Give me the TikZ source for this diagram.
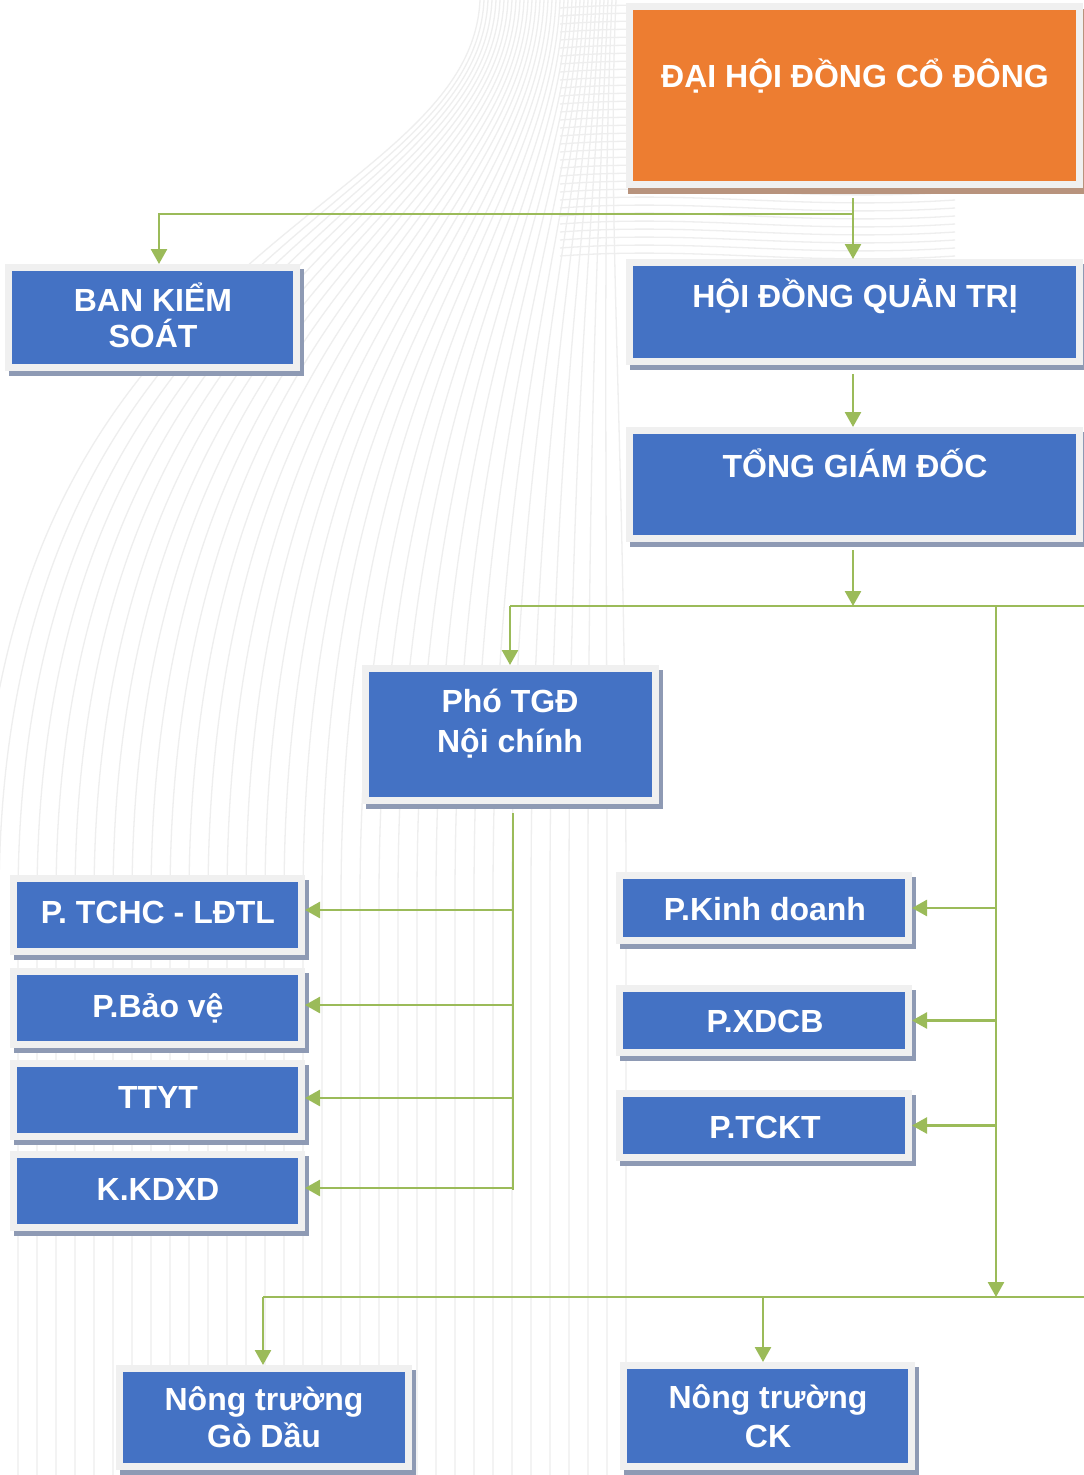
\documentclass[tikz,border=0pt]{standalone}
\usepackage{fontspec}
\setmainfont{Liberation Sans}
\usetikzlibrary{arrows.meta}
\definecolor{boxblue}{HTML}{4472C4}
\definecolor{boxorange}{HTML}{ED7D31}
\definecolor{framegrey}{HTML}{F0F0F0}
\definecolor{shadowblue}{HTML}{8E9AB4}
\definecolor{shadowbrown}{HTML}{B8937D}
\definecolor{conngreen}{HTML}{9BBB59}
\definecolor{swirl}{HTML}{EEEEEE}
\begin{document}
\begin{tikzpicture}[x=1pt,y=-1pt,
  orgbox/.style={fill=boxblue, draw=framegrey, line width=7pt, inner sep=0pt,
    preaction={draw=shadowblue, fill=shadowblue, line width=7pt,
      transform canvas={shift={(4pt,-5pt)}}}},
  orangebox/.style={fill=boxorange, draw=framegrey, line width=7pt, inner sep=0pt,
    preaction={draw=shadowbrown, fill=shadowbrown, line width=7pt,
      transform canvas={shift={(2pt,-6pt)}}}},
  txt/.style={text=white, font=\bfseries\fontsize{32}{38}\selectfont, anchor=base, inner sep=0pt},
  conn/.style={draw=conngreen, line width=2.6pt},
  arr/.style={conn, -{Triangle[width=16pt,length=15pt]}},
  bgline/.style={draw=swirl, line width=1.3pt}]

\useasboundingbox (0,0) rectangle (1084,1475);
\fill[white] (0,0) rectangle (1084,1475);
\begin{scope}
\clip (0,0) rectangle (1084,1475);
% decorative background
\foreach \i in {0,...,34} {
  \draw[bgline] ({480+4*\i},0) .. controls ({470+4*\i},220) and ({-20+19*\i},{240+6*\i}) .. ({-20+19*\i},900) -- ({-20+19*\i},1475);
}
\foreach \j in {1,...,32} {
  \draw[bgline] (560,{8*\j}) .. controls (700,{8*\j-10}) and (800,{8*\j+10}) .. (955,{8*\j});
}
\end{scope}

% boxes
\node[orangebox, minimum width=450pt, minimum height=178pt] (dhdcd) at (854.5,95.5) {};
\node[orgbox, minimum width=288pt, minimum height=100pt] (bks) at (152.5,317.5) {};
\node[orgbox, minimum width=450pt, minimum height=99pt] (hdqt) at (854.5,312) {};
\node[orgbox, minimum width=450pt, minimum height=108pt] (tgd) at (854.5,484.5) {};
\node[orgbox, minimum width=290pt, minimum height=132pt] (ptgd) at (510.5,734.5) {};
\node[orgbox, minimum width=288pt, minimum height=73pt] (tchc) at (157.5,915) {};
\node[orgbox, minimum width=288pt, minimum height=73pt] (baove) at (157.5,1008) {};
\node[orgbox, minimum width=288pt, minimum height=73pt] (ttyt) at (157.5,1100) {};
\node[orgbox, minimum width=288pt, minimum height=73pt] (kdxd) at (157.5,1191) {};
\node[orgbox, minimum width=289pt, minimum height=65pt] (kd) at (764,908) {};
\node[orgbox, minimum width=289pt, minimum height=64pt] (xdcb) at (764,1020.5) {};
\node[orgbox, minimum width=289pt, minimum height=64pt] (tckt) at (764,1125.5) {};
\node[orgbox, minimum width=289pt, minimum height=98pt] (gd) at (264,1417.5) {};
\node[orgbox, minimum width=288pt, minimum height=101pt] (ck) at (767.5,1416) {};

% connectors
\coordinate (j1) at (853,214);
\draw[arr, shorten <=10pt] (dhdcd.south -| j1) -- (hdqt.north -| j1);
\draw[arr] (j1) -| ([xshift=6.5pt]bks.north);
\draw[arr, shorten <=9pt] (hdqt.south -| j1) -- (tgd.north -| j1);
\coordinate (j2) at (853,606);
\draw[arr, shorten <=8pt] (tgd.south -| j2) -- (j2);
\coordinate (j2l) at (510,606);
\coordinate (j2r) at (1084,606);
\draw[conn] (j2l) -- (j2r);
\draw[arr] (j2l) -- (ptgd.north -| j2l);
\coordinate (j3) at (996,606);
\coordinate (j4) at (996,1297);
\draw[arr] (j3) -- (j4);
\coordinate (j4l) at (263,1297);
\coordinate (j4m) at (763,1297);
\coordinate (j4r) at (1084,1297);
\draw[conn] (j4l) -- (j4r);
\draw[arr] (j4l) -- (gd.north -| j4l);
\draw[arr] (j4m) -- (ck.north -| j4m);
\draw[arr] (j3 |- kd.east) -- (kd.east);
\draw[arr] (j3 |- xdcb.east) -- (xdcb.east);
\draw[arr] (j3 |- tckt.east) -- (tckt.east);
\coordinate (b1) at (513,1190);
\draw[conn, shorten <=9pt] (ptgd.south -| b1) -- (b1);
\coordinate (tp1) at ([yshift=5pt]tchc.east);
\coordinate (tp2) at ([yshift=3pt]baove.east);
\coordinate (tp3) at ([yshift=2pt]ttyt.east);
\coordinate (tp4) at ([yshift=3pt]kdxd.east);
\draw[arr] (tp1 -| b1) -- (tp1);
\draw[arr] (tp2 -| b1) -- (tp2);
\draw[arr] (tp3 -| b1) -- (tp3);
\draw[arr] (tp4 -| b1) -- (tp4);

% texts
\node[txt] (t-dhdcd) at (855,87) {ĐẠI HỘI ĐỒNG CỔ ĐÔNG};
\node[txt] (t-hdqt) at (855,307) {HỘI ĐỒNG QUẢN TRỊ};
\node[txt] (t-tgd) at (855,477) {TỔNG GIÁM ĐỐC};
\node[txt] (t-bks1) at (153,311) {BAN KIỂM};
\node[txt] (t-bks2) at (153,347) {SOÁT};
\node[txt] (t-ptgd1) at (510,712) {Phó TGĐ};
\node[txt] (t-ptgd2) at (510,752) {Nội chính};
\node[txt] (t-tchc) at (158,923) {P. TCHC - LĐTL};
\node[txt] (t-baove) at (158,1017) {P.Bảo vệ};
\node[txt] (t-ttyt) at (158,1108) {TTYT};
\node[txt] (t-kdxd) at (158,1200) {K.KDXD};
\node[txt] (t-kd) at (765,920) {P.Kinh doanh};
\node[txt] (t-xdcb) at (765,1032) {P.XDCB};
\node[txt] (t-tckt) at (765,1138) {P.TCKT};
\node[txt] (t-gd1) at (264,1410) {Nông trường};
\node[txt] (t-gd2) at (264,1447) {Gò Dầu};
\node[txt] (t-ck1) at (768,1408) {Nông trường};
\node[txt] (t-ck2) at (768,1447) {CK};
\end{tikzpicture}
\end{document}
